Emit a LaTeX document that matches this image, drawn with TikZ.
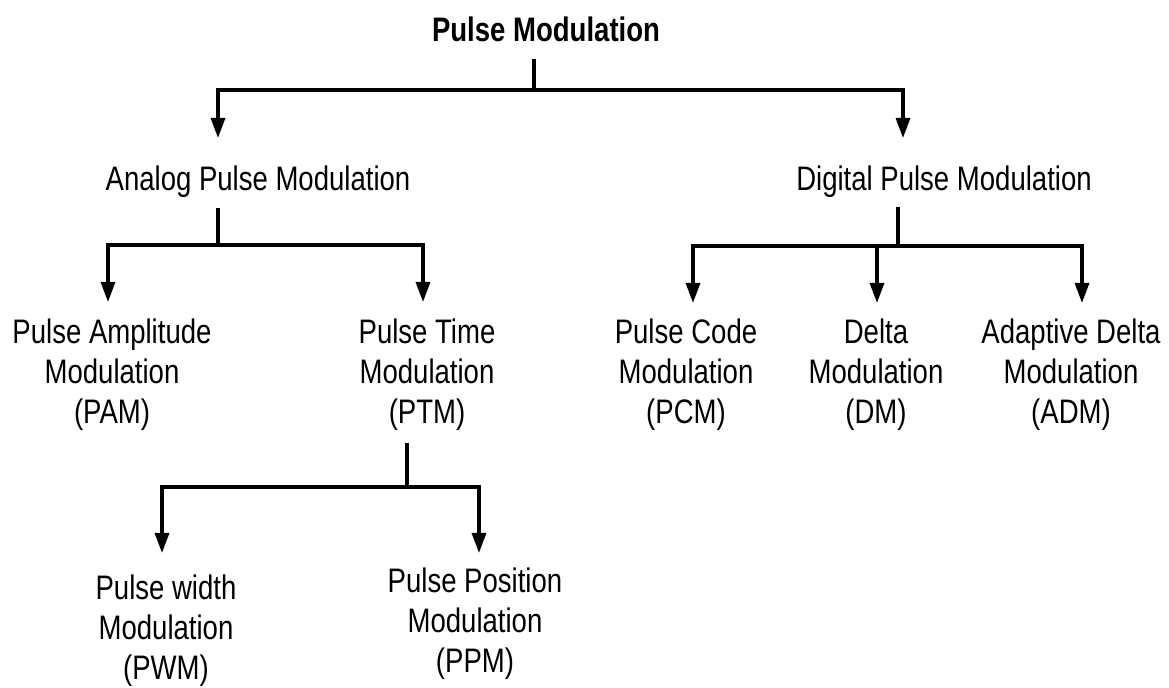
\documentclass[tikz,border=0pt]{standalone}
\usepackage{fontspec}
\setmainfont{Liberation Sans}[FakeStretch=0.81]
\usetikzlibrary{arrows.meta}

\tikzset{
	lbl/.style = {inner sep=0pt, anchor=base, align=center, font=\fontsize{17}{20}\selectfont},
	arr/.style = {-{Triangle[length=10pt, width=7pt]}},
}

\begin{document}
\begin{tikzpicture}[x=0.5pt, y=-0.5pt, line width=1.6pt]
	\useasboundingbox (0,0) rectangle (1169,688);

	% labels, at the baseline of their last line
	\node[lbl, font=\fontsize{17}{20}\selectfont\bfseries] (pm) at (546,42) {Pulse Modulation};
	\node[lbl] (apm) at (258,191) {Analog Pulse Modulation};
	\node[lbl] (dpm) at (944,191) {Digital Pulse Modulation};
	\node[lbl] (pam) at (112,424) {Pulse Amplitude\\Modulation\\(PAM)};
	\node[lbl] (ptm) at (427,424) {Pulse Time\\Modulation\\(PTM)};
	\node[lbl] (pcm) at (686,424) {Pulse Code\\Modulation\\(PCM)};
	\node[lbl] (dm)  at (876,424) {Delta\\Modulation\\(DM)};
	\node[lbl] (adm) at (1071,424) {Adaptive Delta\\Modulation\\(ADM)};
	\node[lbl] (pwm) at (166,680) {Pulse width\\Modulation\\(PWM)};
	\node[lbl] (ppm) at (475,673) {Pulse Position\\Modulation\\(PPM)};

	% junctions
	\coordinate (pm-s) at (534,59);
	\coordinate (pm-j) at (534,90);
	\coordinate (apm-n) at (218,138);
	\coordinate (dpm-n) at (903,138);

	\coordinate (apm-s) at (218,208);
	\coordinate (apm-j) at (218,245);
	\coordinate (pam-n) at (108,302);
	\coordinate (ptm-n) at (423,302);

	\coordinate (dpm-s) at (898,207);
	\coordinate (dpm-j) at (898,246);
	\coordinate (pcm-n) at (693,303);
	\coordinate (dm-n)  at (877,303);
	\coordinate (adm-n) at (1082,303);

	\coordinate (ptm-s) at (407,443);
	\coordinate (ptm-j) at (407,487);
	\coordinate (pwm-n) at (162,553);
	\coordinate (ppm-n) at (479,553);

	\draw (pm-s) -- (pm-j);
	\draw (apm-s) -- (apm-j);
	\draw (dpm-s) -- (dpm-j);
	\draw (ptm-s) -- (ptm-j);

	\begin{scope}[arr]
		\draw (pm-j) -| (apm-n);
		\draw (pm-j) -| (dpm-n);
		\draw (apm-j) -| (pam-n);
		\draw (apm-j) -| (ptm-n);
		\draw (dpm-j) -| (pcm-n);
		\draw (dpm-j) -| (dm-n);
		\draw (dpm-j) -| (adm-n);
		\draw (ptm-j) -| (pwm-n);
		\draw (ptm-j) -| (ppm-n);
	\end{scope}
\end{tikzpicture}
\end{document}
